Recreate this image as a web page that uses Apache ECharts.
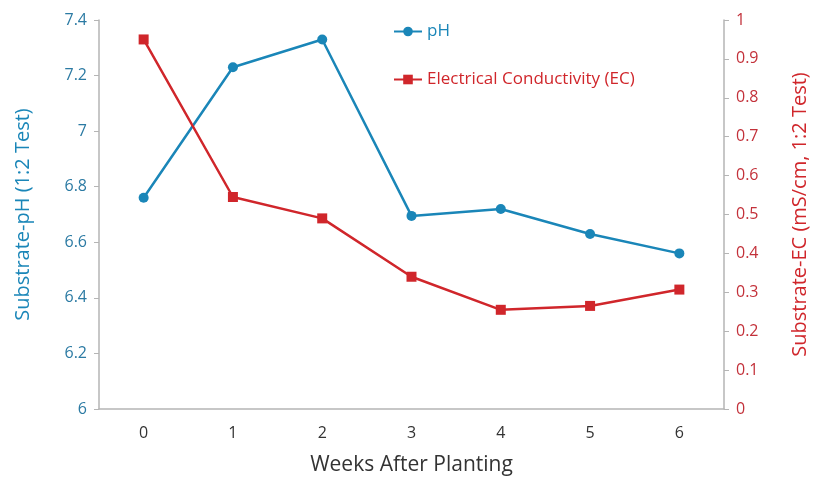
<!DOCTYPE html>
<html>
<head>
<meta charset="utf-8">
<script src="https://cdn.jsdelivr.net/npm/echarts@6/dist/echarts.min.js"></script>
<style>
  html, body { margin: 0; padding: 0; background: #fff; }
  #chart { width: 818px; height: 481px; }
</style>
</head>
<body>
<div id="chart"></div>
<script>
// weeks after planting
const weeks = ["0", "1", "2", "3", "4", "5", "6"];
// substrate pH (1:2 test)
const phValues = [6.76, 7.23, 7.33, 6.695, 6.72, 6.63, 6.56];
// substrate EC (mS/cm, 1:2 test)
const ecValues = [0.95, 0.545, 0.49, 0.34, 0.255, 0.265, 0.307];

const blue = "#1a86b8";
const red = "#d0262b";
const font = "Open Sans";

const chart = echarts.init(document.getElementById("chart"));

const option = {
  animation: false,
  textStyle: { fontFamily: font },
  grid: { left: 99, right: 94, top: 20, bottom: 72 },
  legend: {
    orient: "vertical",
    left: 388,
    top: 18,
    itemGap: 31,
    itemWidth: 28,
    itemHeight: 12,
    textStyle: { fontFamily: font, fontSize: 17 },
    data: [
      { name: "pH", textStyle: { color: blue } },
      { name: "Electrical Conductivity (EC)", textStyle: { color: red } }
    ]
  },
  xAxis: {
    type: "category",
    data: weeks,
    boundaryGap: true,
    name: "Weeks After Planting",
    nameLocation: "middle",
    nameGap: 46,
    nameTextStyle: { color: "#333", fontSize: 21, fontFamily: font },
    axisLine: { lineStyle: { color: "#b5b5b5", width: 1.5 } },
    axisTick: { show: false },
    axisLabel: { color: "#333", fontSize: 16, margin: 16 }
  },
  yAxis: [
    {
      type: "value",
      min: 6,
      max: 7.4,
      interval: 0.2,
      name: "Substrate-pH (1:2 Test)",
      nameLocation: "middle",
      nameGap: 66,
      nameTextStyle: { color: blue, fontSize: 20, fontFamily: font },
      axisLine: { show: true, lineStyle: { color: "#b5b5b5", width: 1.5 } },
      axisTick: { show: true, length: 5, lineStyle: { color: "#b5b5b5" } },
      axisLabel: {
        color: "#2b7aa3",
        fontSize: 16,
        margin: 12,
        formatter: v => String(Math.round(v * 10) / 10)
      },
      splitLine: { show: false }
    },
    {
      type: "value",
      min: 0,
      max: 1,
      interval: 0.1,
      position: "right",
      name: "Substrate-EC (mS/cm, 1:2 Test)",
      nameLocation: "middle",
      nameGap: 66,
      nameRotate: 90,
      nameTextStyle: { color: red, fontSize: 20, fontFamily: font },
      axisLine: { show: true, lineStyle: { color: "#b5b5b5", width: 1.5 } },
      axisTick: { show: true, length: 5, lineStyle: { color: "#b5b5b5" } },
      axisLabel: {
        color: "#c3313a",
        fontSize: 16,
        margin: 12,
        formatter: v => String(Math.round(v * 10) / 10)
      },
      splitLine: { show: false }
    }
  ],
  series: [
    {
      name: "pH",
      type: "line",
      yAxisIndex: 0,
      data: phValues,
      symbol: "circle",
      symbolSize: 10,
      lineStyle: { color: blue, width: 2.5 },
      itemStyle: { color: blue }
    },
    {
      name: "Electrical Conductivity (EC)",
      type: "line",
      yAxisIndex: 1,
      data: ecValues,
      symbol: "rect",
      symbolSize: 10,
      lineStyle: { color: red, width: 2.5 },
      itemStyle: { color: red }
    }
  ]
};

chart.setOption(option);
</script>
</body>
</html>
